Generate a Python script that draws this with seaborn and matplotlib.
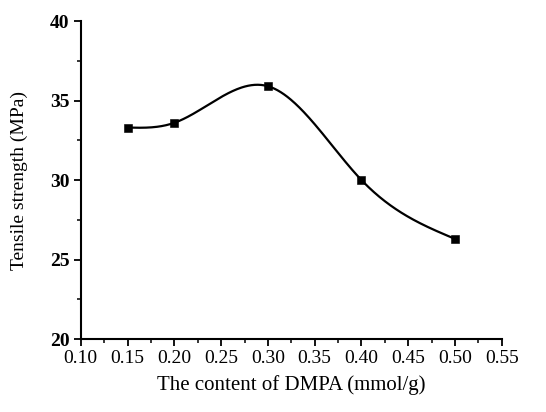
import seaborn as sns
import pandas as pd
import matplotlib.pyplot as plt
import numpy as np
from matplotlib.ticker import MultipleLocator

sns.set_theme(style="ticks", rc={'axes.labelcolor': 'black', 'text.color': 'black'})
plt.rcParams['font.family'] = ['Liberation Serif', 'DejaVu Serif']

# data
dmpa = [0.15, 0.20, 0.30, 0.40, 0.50]
strength = [33.3, 33.6, 35.9, 30.0, 26.3]

df = pd.DataFrame({'DMPA': dmpa, 'Strength': strength})


def natural_spline(x, y, xs):
    # natural cubic spline through the measured points (smooth connecting line)
    x = np.asarray(x, float)
    y = np.asarray(y, float)
    n = len(x)
    h = np.diff(x)
    A = np.zeros((n, n))
    b = np.zeros(n)
    A[0, 0] = A[-1, -1] = 1
    for i in range(1, n - 1):
        A[i, i - 1] = h[i - 1]
        A[i, i] = 2 * (h[i - 1] + h[i])
        A[i, i + 1] = h[i]
        b[i] = 3 * ((y[i + 1] - y[i]) / h[i] - (y[i] - y[i - 1]) / h[i - 1])
    c = np.linalg.solve(A, b)
    out = np.empty_like(xs)
    for k, xv in enumerate(xs):
        i = min(max(np.searchsorted(x, xv) - 1, 0), n - 2)
        bb = (y[i + 1] - y[i]) / h[i] - h[i] * (2 * c[i] + c[i + 1]) / 3
        d = (c[i + 1] - c[i]) / (3 * h[i])
        t = xv - x[i]
        out[k] = y[i] + bb * t + c[i] * t ** 2 + d * t ** 3
    return out


xs = np.linspace(min(dmpa), max(dmpa), 300)
curve = pd.DataFrame({'DMPA': xs, 'Strength': natural_spline(dmpa, strength, xs)})

fig = plt.figure(figsize=(5.46, 4.12), dpi=100)
ax = fig.add_axes([0.148, 0.177, 0.771, 0.772])

sns.lineplot(data=curve, x='DMPA', y='Strength', color='black', lw=1.6, ax=ax)
sns.scatterplot(data=df, x='DMPA', y='Strength', marker='s', s=26,
                color='black', edgecolor='black', zorder=3, ax=ax)

ax.set_xlim(0.10, 0.55)
ax.set_ylim(20, 40)
ax.xaxis.set_major_locator(MultipleLocator(0.05))
ax.xaxis.set_minor_locator(MultipleLocator(0.025))
ax.yaxis.set_major_locator(MultipleLocator(5))
ax.yaxis.set_minor_locator(MultipleLocator(2.5))
ax.set_xticks(np.arange(0.10, 0.551, 0.05))
ax.set_xticklabels(['%.2f' % v for v in np.arange(0.10, 0.551, 0.05)])

sns.despine(ax=ax)
for sp in ['left', 'bottom']:
    ax.spines[sp].set_linewidth(1.5)
    ax.spines[sp].set_color('black')
ax.tick_params(which='major', length=5, width=1.3, labelsize=14, colors='black', pad=3)
ax.tick_params(which='minor', length=3, width=1.3)
for lbl in ax.get_yticklabels():
    lbl.set_fontweight('bold')

ax.set_xlabel('The content of DMPA (mmol/g)', fontsize=15, labelpad=6, color='black')
ax.set_ylabel('Tensile strength (MPa)', fontsize=14, labelpad=16, color='black')

fig.savefig('out.png', dpi=100)
